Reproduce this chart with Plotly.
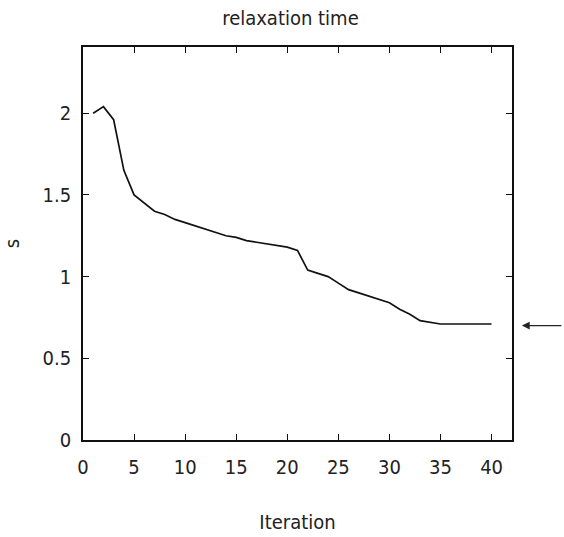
import plotly.graph_objects as go

iterations = list(range(1, 41))
relax_s = [2.00, 2.04, 1.96, 1.65, 1.50, 1.45, 1.40, 1.38, 1.35, 1.33,
           1.31, 1.29, 1.27, 1.25, 1.24, 1.22, 1.21, 1.20, 1.19, 1.18,
           1.16, 1.04, 1.02, 1.00, 0.96, 0.92, 0.90, 0.88, 0.86, 0.84,
           0.80, 0.77, 0.73, 0.72, 0.71, 0.71, 0.71, 0.71, 0.71, 0.71]
x_ticks = [0, 5, 10, 15, 20, 25, 30, 35, 40]
y_ticks = [0, 0.5, 1, 1.5, 2]
y_tick_text = ["0", "0.5", "1", "1.5", "2"]
arrow_value = 0.70
Y_MAX = 2.405

FONT = "Liberation Sans Narrow, DejaVu Sans Condensed, Liberation Sans, Arial"
FS = 20

fig = go.Figure()
fig.add_trace(go.Scatter(x=iterations, y=relax_s, mode="lines",
                         line=dict(color="#111", width=1.7), showlegend=False))

axis_common = dict(showgrid=False, zeroline=False, showline=True, mirror="allticks",
                   linecolor="#111", linewidth=1.6, ticks="inside", ticklen=6,
                   tickcolor="#111", tickwidth=1.2, automargin=False,
                   tickfont=dict(family=FONT, size=FS, color="#222"))

fig.update_xaxes(range=[0, 42], tickvals=x_ticks, ticklabelstandoff=8,
                 title=dict(text="Iteration", font=dict(family=FONT, size=FS, color="#222"), standoff=37),
                 **axis_common)
fig.update_yaxes(range=[0, Y_MAX], tickvals=y_ticks, ticktext=y_tick_text, ticklabelstandoff=6,
                 title=dict(text="s", font=dict(family=FONT, size=FS, color="#222"), standoff=26),
                 **axis_common)

fig.add_annotation(x=1.023, y=arrow_value / Y_MAX, xref="paper", yref="paper", text="",
                   showarrow=True, ax=41, ay=0, arrowhead=2, arrowsize=1.2,
                   arrowwidth=1.3, arrowcolor="#222")

fig.update_layout(
    width=564, height=537,
    margin=dict(l=83, r=52, t=47, b=97),
    paper_bgcolor="white", plot_bgcolor="white",
    title=dict(text="relaxation time", x=0.515, xanchor="center", y=0.966, yanchor="middle",
               font=dict(family=FONT, size=FS, color="#222")),
)

fig.write_html("out.html")
